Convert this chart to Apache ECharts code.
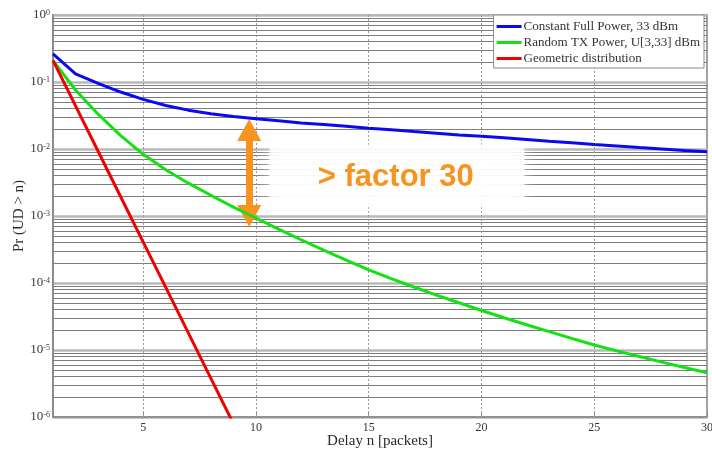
<!DOCTYPE html>
<html>
<head>
<meta charset="utf-8">
<script src="https://cdn.jsdelivr.net/npm/echarts@6/dist/echarts.min.js"></script>
<style>
  html, body { margin: 0; padding: 0; background: #ffffff; }
  #chart { width: 712px; height: 452px; }
</style>
</head>
<body>
<div id="chart"></div>
<script>
// Delay n in packets
const delays = [1, 2, 3, 4, 5, 6, 7, 8, 9, 10, 11, 12, 13, 14, 15,
                16, 17, 18, 19, 20, 21, 22, 23, 24, 25, 26, 27, 28, 29, 30];

// Pr(UD > n), constant full power at 33 dBm
const constantPower = [0.262, 0.132, 0.0955, 0.0708, 0.0550, 0.0447, 0.0380, 0.0335, 0.0305, 0.0282,
                       0.0263, 0.0245, 0.0232, 0.0219, 0.0204, 0.0193, 0.0182, 0.0172, 0.0162, 0.0155,
                       0.0147, 0.0139, 0.0131, 0.0124, 0.0117, 0.0111, 0.0105, 0.0100, 0.0095, 0.0091];

// Pr(UD > n), random TX power drawn from U[3,33] dBm
const randomPower = [0.209, 0.0759, 0.0331, 0.0158, 0.00832, 0.00490, 0.00309, 0.00204, 0.00136, 0.000933,
                     0.000638, 0.000442, 0.000309, 0.000219, 0.000157, 0.000116, 8.71e-5, 6.61e-5, 5.07e-5, 3.89e-5,
                     3.03e-5, 2.38e-5, 1.88e-5, 1.49e-5, 1.19e-5, 9.70e-6, 7.98e-6, 6.59e-6, 5.47e-6, 4.57e-6];

// Pr(UD > n), geometric distribution (runs off the bottom of the axis after n = 8)
const geometric = [0.21, 0.0441, 0.00926, 0.00194, 0.000408, 8.58e-5, 1.80e-5, 3.78e-6, 7.94e-7];

const seriesNames = ['Constant Full Power, 33 dBm', 'Random TX Power, U[3,33] dBm', 'Geometric distribution'];

// Axis ticks and grid positions
const xTickValues = [5, 10, 15, 20, 25, 30];
const xGridValues = [5, 10, 15, 20, 25];
const decades = [1e-6, 1e-5, 1e-4, 1e-3, 1e-2, 1e-1];
const mantissas = [2, 3, 4, 5, 6, 7, 8, 9];

// Annotation: the gap between the two curves at n ~ 9.7
const gapDelay = 9.7;
const gapUpper = 0.0192;
const gapLower = 0.00100;
const gapText = '> factor 30';
const gapTextAt = [16.2, 0.0038];
const hazeBox = [[10.6, 0.0111], [21.9, 0.00146]];

const xMin = 1, xMax = 30, yMin = 1e-6, yMax = 1;

const minorGrid = [];
decades.forEach(d => mantissas.forEach(m => minorGrid.push(+(m * d).toPrecision(3))));

const serif = 'Liberation Serif';
const orange = '#f7931e';

const pairs = (vals) => vals.map((v, i) => [delays[i], v]);

const chart = echarts.init(document.getElementById('chart'), null, { renderer: 'canvas' });

chart.setOption({
  animation: false,
  backgroundColor: '#ffffff',
  grid: {
    left: 53, right: 5, top: 15, bottom: 35,
    containLabel: false,
    outerBoundsMode: 'none',
    show: true, borderColor: '#858585', borderWidth: 1.5, backgroundColor: 'transparent'
  },
  legend: {
    data: seriesNames,
    orient: 'vertical',
    right: 8, top: 15,
    padding: [5, 4, 3, 3],
    itemGap: 3,
    itemWidth: 25, itemHeight: 3,
    icon: 'rect',
    backgroundColor: '#ffffff',
    borderColor: '#8a8a8a', borderWidth: 1,
    borderRadius: 0,
    textStyle: { fontFamily: serif, fontSize: 13, color: '#333333', padding: [0, 0, 0, -3], lineHeight: 13 }
  },
  xAxis: {
    type: 'value',
    min: xMin, max: xMax,
    name: 'Delay n [packets]',
    nameLocation: 'middle',
    nameGap: 17,
    nameMoveOverlap: false,
    nameTextStyle: { fontFamily: serif, fontSize: 15, color: '#2a2a2a' },
    axisLine: { show: true, lineStyle: { color: '#858585', width: 1.5 } },
    axisTick: { show: true, inside: true, length: 5, customValues: xTickValues, lineStyle: { color: '#858585' } },
    axisLabel: { customValues: xTickValues, fontFamily: serif, fontSize: 12, color: '#333333', margin: 5 },
    splitLine: { show: false }
  },
  yAxis: {
    type: 'log',
    logBase: 10,
    min: yMin, max: yMax,
    splitNumber: 6,
    name: 'Pr (UD > n)',
    nameLocation: 'middle',
    nameGap: 26,
    nameMoveOverlap: false,
    nameRotate: 90,
    nameTextStyle: { fontFamily: serif, fontSize: 15, color: '#2a2a2a' },
    axisLine: { show: true, lineStyle: { color: '#858585', width: 1.5 } },
    axisTick: { show: false },
    axisLabel: {
      margin: 3,
      formatter: v => '{b|10}{e|' + Math.round(Math.log10(v)) + '}',
      rich: {
        b: { fontFamily: serif, fontSize: 13, color: '#3a3a3a' },
        e: { fontFamily: serif, fontSize: 8, color: '#3a3a3a', verticalAlign: 'top' }
      }
    },
    splitLine: { show: true, lineStyle: { color: '#b8b8b8', width: 2.5 } }
  },
  series: [
    {
      // minor horizontal grid lines and dotted vertical grid lines
      type: 'line', name: 'grid', data: [], z: 1, silent: true,
      markLine: {
        silent: true, symbol: 'none', animation: false, z: 1,
        label: { show: false },
        data: minorGrid.map(v => [
          { coord: [xMin, v], lineStyle: { color: '#7d7d7d', width: 1, type: 'solid' } },
          { coord: [xMax, v] }
        ]).concat(xGridValues.map(v => [
          { coord: [v, yMin], lineStyle: { color: '#9a9a9a', width: 1, type: [2, 2] } },
          { coord: [v, yMax] }
        ]))
      }
    },
    {
      // soft white backdrop behind the annotation text
      type: 'line', name: 'haze', data: [], z: 2, silent: true,
      markArea: {
        silent: true, animation: false, z: 2,
        itemStyle: { color: 'rgba(255,255,255,0.84)', shadowBlur: 14, shadowColor: 'rgba(255,255,255,0.9)' },
        data: [[{ coord: hazeBox[0] }, { coord: hazeBox[1] }]]
      }
    },
    {
      name: seriesNames[0], type: 'line', data: pairs(constantPower), z: 3,
      showSymbol: false, symbol: 'none', clip: true,
      lineStyle: { color: '#0a0af0', width: 3 }, itemStyle: { color: '#0a0af0' }
    },
    {
      name: seriesNames[1], type: 'line', data: pairs(randomPower), z: 3,
      showSymbol: false, symbol: 'none', clip: true,
      lineStyle: { color: '#14e014', width: 3 }, itemStyle: { color: '#14e014' }
    },
    {
      name: seriesNames[2], type: 'line', data: pairs(geometric), z: 3,
      showSymbol: false, symbol: 'none', clip: true,
      lineStyle: { color: '#f00000', width: 3 }, itemStyle: { color: '#f00000' }
    },
    {
      // double arrow and label marking the gap between the curves
      type: 'line', name: 'annotation', data: [], z: 3, silent: true,
      markLine: {
        silent: true, animation: false, z: 3,
        symbol: ['triangle', 'triangle'],
        symbolSize: [24, 22],
        label: { show: false },
        lineStyle: { color: orange, width: 7, type: 'solid', opacity: 1 },
        data: [[{ coord: [gapDelay, gapUpper] }, { coord: [gapDelay, gapLower] }]]
      },
      markPoint: {
        silent: true, animation: false, z: 3,
        symbol: 'circle', symbolSize: 0,
        label: {
          show: true, position: 'inside',
          formatter: gapText,
          fontFamily: 'Liberation Sans', fontWeight: 'bold', fontSize: 31, color: orange
        },
        data: [{ coord: gapTextAt }]
      }
    }
  ]
});
</script>
</body>
</html>
